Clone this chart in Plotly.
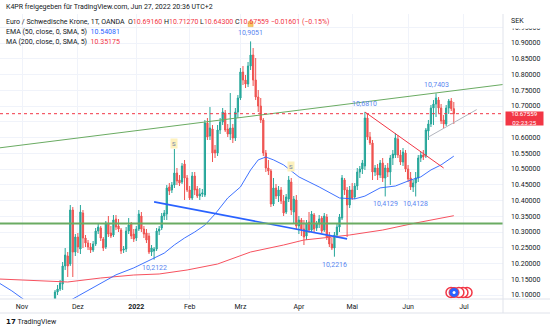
import pandas as pd
import plotly.graph_objects as go

# EUR/SEK daily candles (OANDA), 18 Nov 2021 - 27 Jun 2022
dates = pd.bdate_range("2021-11-18", "2022-06-27")

opens = [
    10.0841, 10.1095, 10.1190, 10.1349, 10.1920, 10.2238, 10.1984, 10.3698, 10.2365, 10.2841,
    10.2460, 10.3603, 10.2809, 10.2650, 10.2523, 10.2428, 10.2619, 10.3031, 10.3127, 10.2777,
    10.2523, 10.3285, 10.2968, 10.2904, 10.3412, 10.3190, 10.3063, 10.2428, 10.2460,
    10.3031, 10.3254, 10.2936, 10.2809, 10.3095, 10.3508, 10.3095, 10.2968, 10.2873, 10.2365,
    10.2396, 10.2460, 10.3031, 10.3127, 10.3508, 10.3571, 10.4428, 10.4333, 10.4492, 10.4873,
    10.4651, 10.4587, 10.5159, 10.4714, 10.4333, 10.4079, 10.4778, 10.4365, 10.4143,
    10.4206, 10.4174, 10.6460, 10.6048, 10.6270, 10.5603, 10.5508, 10.6238, 10.6492, 10.6778,
    10.6270, 10.6111, 10.6302, 10.5984, 10.6810, 10.7254, 10.8079, 10.7825, 10.7698, 10.8270,
    10.8619, 10.7825, 10.7286, 10.7000, 10.6556, 10.5508, 10.5032, 10.4937, 10.3889, 10.4397,
    10.4143, 10.4333, 10.3984, 10.3635, 10.4047, 10.4587, 10.3635, 10.4016, 10.3190,
    10.3381, 10.3095, 10.2873, 10.3317, 10.3063, 10.3539, 10.3127, 10.3254, 10.3444, 10.3063,
    10.3476, 10.2873, 10.2619, 10.2492, 10.2904, 10.3158, 10.3444, 10.4651, 10.4333, 10.3857,
    10.4333, 10.4111, 10.4460, 10.4905, 10.5000, 10.5095, 10.6619, 10.6016, 10.5825, 10.4905,
    10.5032, 10.4809, 10.5190, 10.4714, 10.5032, 10.4905, 10.5349, 10.5444, 10.5952,
    10.5444, 10.5222, 10.5508, 10.5000, 10.4714, 10.4428, 10.4555, 10.4714, 10.5349, 10.5444,
    10.5413, 10.6206, 10.6429, 10.6937, 10.7063, 10.7190, 10.6937, 10.6556, 10.6429, 10.6937,
    10.7159, 10.69160,
]
highs = [
    10.1159, 10.1317, 10.1476, 10.2047, 10.2492, 10.2365, 10.3857, 10.3793, 10.2936, 10.2968,
    10.3857, 10.3698, 10.2904, 10.2746, 10.2650, 10.2714, 10.3127, 10.3254, 10.3190, 10.2841,
    10.3349, 10.3508, 10.3190, 10.3539, 10.3539, 10.3412, 10.3127, 10.2555, 10.3158,
    10.3444, 10.3317, 10.3095, 10.3190, 10.3698, 10.3635, 10.3190, 10.3095, 10.2968, 10.2587,
    10.2523, 10.3127, 10.3190, 10.3603, 10.3698, 10.4492, 10.4555, 10.4587, 10.5635, 10.5032,
    10.4809, 10.5190, 10.5286, 10.4809, 10.4460, 10.4905, 10.4905, 10.4460, 10.4397,
    10.4365, 10.6556, 10.6619, 10.6968, 10.6397, 10.5762, 10.6397, 10.6619, 10.6937, 10.6873,
    10.6429, 10.7413, 10.6429, 10.6937, 10.7349, 10.8206, 10.8270, 10.7984, 10.8397, 10.9051,
    10.8841, 10.8524, 10.7508, 10.7254, 10.6619, 10.5603, 10.5286, 10.5000, 10.4714, 10.4524,
    10.4460, 10.4428, 10.4174, 10.4206, 10.4778, 10.4714, 10.4143, 10.4174, 10.3508,
    10.3444, 10.3381, 10.3381, 10.3635, 10.3666, 10.3603, 10.3349, 10.3539, 10.3508, 10.3603,
    10.3571, 10.3000, 10.2809, 10.3000, 10.3254, 10.3571, 10.4809, 10.4714, 10.4428, 10.4460,
    10.4555, 10.4555, 10.5032, 10.5095, 10.5286, 10.6810, 10.6746, 10.6175, 10.5921, 10.5127,
    10.5159, 10.5286, 10.5349, 10.5127, 10.5190, 10.5444, 10.5603, 10.6143, 10.6079,
    10.5603, 10.5667, 10.5603, 10.5127, 10.4905, 10.4651, 10.4905, 10.5444, 10.5540, 10.5603,
    10.6302, 10.6556, 10.7032, 10.7190, 10.7403, 10.7286, 10.7063, 10.6714, 10.7032, 10.7222,
    10.7254, 10.71270,
]
lows = [
    10.0746, 10.1000, 10.1127, 10.1159, 10.1794, 10.1571, 10.1920, 10.1571, 10.2238, 10.2333,
    10.2301, 10.2492, 10.2523, 10.2428, 10.2333, 10.2365, 10.2555, 10.2936, 10.2714, 10.2396,
    10.2460, 10.2841, 10.2809, 10.2841, 10.3063, 10.3000, 10.2301, 10.2333, 10.2365,
    10.2936, 10.2777, 10.2682, 10.2714, 10.3031, 10.3000, 10.2809, 10.2650, 10.2301, 10.2238,
    10.2122, 10.2396, 10.2904, 10.3063, 10.3381, 10.3381, 10.4174, 10.4238, 10.4397, 10.4492,
    10.4460, 10.4524, 10.4016, 10.4270, 10.4016, 10.4016, 10.4174, 10.4079, 10.4016,
    10.4111, 10.4111, 10.5921, 10.5921, 10.5222, 10.5349, 10.5413, 10.6111, 10.6397, 10.6175,
    10.6016, 10.5921, 10.5825, 10.5889, 10.6619, 10.7190, 10.7667, 10.7571, 10.7603, 10.8143,
    10.7635, 10.7190, 10.6810, 10.6460, 10.5413, 10.4905, 10.4809, 10.3793, 10.3825, 10.4047,
    10.3952, 10.3889, 10.3508, 10.3571, 10.3952, 10.3539, 10.3254, 10.3095, 10.2936,
    10.2873, 10.2587, 10.2746, 10.2968, 10.3000, 10.3000, 10.3031, 10.3127, 10.2968, 10.3000,
    10.2746, 10.2523, 10.2428, 10.2216, 10.2809, 10.3000, 10.3381, 10.4174, 10.2841, 10.3762,
    10.4016, 10.4047, 10.4333, 10.4714, 10.4841, 10.4968, 10.5921, 10.5762, 10.4651, 10.4778,
    10.4651, 10.4714, 10.4587, 10.4129, 10.4746, 10.4492, 10.5127, 10.5349, 10.5349,
    10.5127, 10.5095, 10.4905, 10.4587, 10.4333, 10.4270, 10.4128, 10.4587, 10.5222, 10.5286,
    10.5349, 10.5921, 10.6333, 10.6397, 10.6651, 10.6778, 10.6429, 10.6302, 10.6365, 10.6746,
    10.6841, 10.64300,
]
closes = [
    10.1095, 10.1190, 10.1381, 10.1920, 10.2269, 10.1920, 10.3698, 10.2365, 10.2841, 10.2523,
    10.3635, 10.2809, 10.2650, 10.2523, 10.2428, 10.2619, 10.3031, 10.3158, 10.2809, 10.2492,
    10.3285, 10.2936, 10.2873, 10.3381, 10.3158, 10.3095, 10.2396, 10.2460, 10.3031,
    10.3222, 10.2873, 10.2777, 10.3095, 10.3571, 10.3095, 10.2936, 10.2746, 10.2365, 10.2492,
    10.2460, 10.3031, 10.3095, 10.3508, 10.3603, 10.4397, 10.4301, 10.4492, 10.4873, 10.4619,
    10.4555, 10.5095, 10.4714, 10.4333, 10.4079, 10.4778, 10.4333, 10.4143, 10.4206,
    10.4238, 10.6460, 10.6016, 10.6302, 10.5508, 10.5508, 10.6238, 10.6492, 10.6810, 10.6238,
    10.6111, 10.6302, 10.5984, 10.6810, 10.7254, 10.8079, 10.7825, 10.7698, 10.8270, 10.8619,
    10.7825, 10.7286, 10.7000, 10.6556, 10.5508, 10.5032, 10.4937, 10.3889, 10.4397, 10.4143,
    10.4333, 10.3984, 10.3603, 10.4111, 10.4651, 10.3698, 10.4047, 10.3190, 10.3381,
    10.3095, 10.2841, 10.3285, 10.3063, 10.3571, 10.3095, 10.3254, 10.3412, 10.3031, 10.3508,
    10.2841, 10.2619, 10.2492, 10.2904, 10.3158, 10.3476, 10.4714, 10.4333, 10.3857, 10.4333,
    10.4079, 10.4460, 10.4905, 10.5000, 10.5190, 10.6619, 10.6016, 10.5825, 10.4905, 10.5032,
    10.4809, 10.5190, 10.4714, 10.5032, 10.4905, 10.5349, 10.5476, 10.5984, 10.5444,
    10.5222, 10.5540, 10.5000, 10.4682, 10.4428, 10.4555, 10.4714, 10.5349, 10.5444, 10.5381,
    10.6238, 10.6429, 10.6937, 10.7063, 10.7254, 10.6937, 10.6524, 10.6429, 10.6937, 10.7159,
    10.6916, 10.67559,
]

# EMA(50) and MA(200) overlays
ema_dates = [
    "2021-10-19", "2021-10-26", "2021-11-02", "2021-11-12", "2021-11-22", "2021-11-29",
    "2021-12-06", "2021-12-14", "2021-12-22", "2021-12-31", "2022-01-06", "2022-01-12",
    "2022-01-18", "2022-01-24", "2022-01-28", "2022-02-03", "2022-02-09", "2022-02-15",
    "2022-02-22", "2022-03-01", "2022-03-07", "2022-03-10", "2022-03-15", "2022-03-18",
    "2022-03-24", "2022-04-01", "2022-04-13", "2022-04-25", "2022-05-03", "2022-05-09",
    "2022-05-17", "2022-05-25", "2022-06-02", "2022-06-08", "2022-06-14", "2022-06-20",
    "2022-06-27",
]
ema_values = [
    10.138, 10.113, 10.084, 10.059, 10.065, 10.087,
    10.110, 10.138, 10.164, 10.186, 10.202, 10.217,
    10.233, 10.259, 10.281, 10.300, 10.322, 10.357,
    10.408, 10.443, 10.497, 10.529, 10.538, 10.529,
    10.513, 10.475, 10.443, 10.408, 10.405, 10.414,
    10.440, 10.446, 10.465, 10.475, 10.497, 10.513,
    10.54081,
]
ma_dates = [
    "2021-10-19", "2021-11-10", "2021-11-25", "2021-12-14", "2021-12-31", "2022-01-14",
    "2022-01-31", "2022-02-16", "2022-03-07", "2022-03-24", "2022-04-05", "2022-04-20",
    "2022-04-29", "2022-05-18", "2022-06-06", "2022-06-27",
]
ma_values = [
    10.1508, 10.1444, 10.1413, 10.1540, 10.1635, 10.1667,
    10.1794, 10.1984, 10.2365, 10.2587, 10.2746, 10.2841,
    10.2905, 10.3063, 10.3286, 10.35175,
]

# time axis
month_dates = ["2021-11-01", "2021-12-01", "2022-01-03", "2022-02-01", "2022-03-01",
               "2022-04-01", "2022-05-02", "2022-06-01", "2022-07-01"]
month_labels = ["Nov", "Dez", "<b>2022</b>", "Feb", "Mrz", "Apr", "Mai", "Jun", "Jul"]
price_ticks = [10.10, 10.15, 10.20, 10.25, 10.30, 10.35, 10.40, 10.45, 10.50,
               10.55, 10.60, 10.65, 10.70, 10.75, 10.80, 10.85, 10.90, 10.95]

# drawings
support_level = 10.327
channel_line = [("2021-10-19", 10.5670), ("2022-07-25", 10.7689)]
falling_blue = [("2022-01-12", 10.3956), ("2022-04-28", 10.2781)]
falling_red = [("2022-05-09", 10.6810), ("2022-06-21", 10.5032)]
rising_grey = [("2022-06-13", 10.6016), ("2022-07-08", 10.6886)]

marked_highs = ["2022-03-07", "2022-05-09", "2022-06-16"]
marked_lows = ["2022-01-12", "2022-04-21", "2022-05-19", "2022-06-06"]
split_marks = [("2022-01-24", 10.5825), ("2022-03-29", 10.5095)]
flag_mark = ("2022-03-07", 10.960)

UP, DOWN = "#26a69a", "#ef5350"
RED, BLUE = "#f23645", "#2962ff"
TXT = "#131722"
FONT = "Roboto"

# bars are placed on a trading-day index, 1 Nov 2021 = 0
calendar = pd.bdate_range("2021-10-01", "2022-08-31")
origin = calendar.get_loc(pd.Timestamp("2021-11-01"))


def bar(d):
    return calendar.get_loc(pd.Timestamp(d)) - origin


xs = [bar(d) for d in dates]
last = closes[-1]

fig = go.Figure()
fig.add_trace(go.Candlestick(
    x=xs, open=opens, high=highs, low=lows, close=closes,
    increasing=dict(line=dict(color=UP, width=1), fillcolor=UP),
    decreasing=dict(line=dict(color=DOWN, width=1), fillcolor=DOWN),
    whiskerwidth=0, hoverinfo="skip", showlegend=False,
))
fig.add_trace(go.Scatter(x=[bar(d) for d in ma_dates], y=ma_values, mode="lines",
                         line=dict(color="#f7525f", width=1), hoverinfo="skip", showlegend=False))
fig.add_trace(go.Scatter(x=[bar(d) for d in ema_dates], y=ema_values, mode="lines",
                         line=dict(color=BLUE, width=0.9), hoverinfo="skip", showlegend=False))

for pts, color, width in [(channel_line, "#6aab62", 1), (falling_blue, BLUE, 1.6),
                          (falling_red, RED, 1), (rising_grey, "#b2b5be", 1)]:
    fig.add_trace(go.Scatter(x=[bar(p[0]) for p in pts], y=[p[1] for p in pts], mode="lines",
                             line=dict(color=color, width=width), hoverinfo="skip",
                             showlegend=False))

# small flag badge above the March high
fig.add_trace(go.Scatter(x=[bar(flag_mark[0])], y=[flag_mark[1]], mode="markers",
                         marker=dict(symbol="square", size=5, color="#f5c760",
                                     line=dict(color="#e8a33c", width=0.5)),
                         hoverinfo="skip", showlegend=False))

# event badges on the last bars
fig.add_trace(go.Scatter(x=[175.2, 173.6, 172.0, 168.9], y=[10.108] * 4, mode="markers",
                         marker=dict(symbol="circle", size=10, color="white",
                                     line=dict(color=RED, width=1.5)),
                         hoverinfo="skip", showlegend=False, cliponaxis=False))
fig.add_trace(go.Scatter(x=[170.1], y=[10.108], mode="markers",
                         marker=dict(symbol="circle", size=10, color=BLUE,
                                     line=dict(color=RED, width=1)),
                         hoverinfo="skip", showlegend=False, cliponaxis=False))
fig.add_trace(go.Scatter(x=[170.1], y=[10.108], mode="markers",
                         marker=dict(symbol="circle", size=3, color="white"),
                         hoverinfo="skip", showlegend=False, cliponaxis=False))

PLOT_TOP, PLOT_BOTTOM = 14, 299


def py(px):
    return (PLOT_BOTTOM - px) / (PLOT_BOTTOM - PLOT_TOP)


shapes = [
    dict(type="line", xref="paper", yref="y", x0=0, x1=1, y0=support_level, y1=support_level,
         line=dict(color="#6aab62", width=2), layer="above"),
    dict(type="line", xref="paper", yref="y", x0=0, x1=1, y0=last, y1=last,
         line=dict(color=RED, width=1, dash="dot"), layer="above"),
    # panel frame
    dict(type="line", xref="paper", yref="paper", x0=0, x1=550 / 503, y0=0, y1=0,
         line=dict(color="#e0e3eb", width=1)),
    dict(type="line", xref="paper", yref="paper", x0=0, x1=550 / 503, y0=py(313), y1=py(313),
         line=dict(color="#e0e3eb", width=1)),
    dict(type="line", xref="paper", yref="paper", x0=1, x1=1, y0=py(313), y1=1,
         line=dict(color="#e0e3eb", width=1)),
    dict(type="rect", xref="paper", yref="paper", x0=504 / 503, x1=550 / 503,
         y0=py(28.5), y1=1.0, fillcolor="white", line=dict(width=0), layer="above"),
]

annotations = []


def fmt_comma(v):
    return f"{v:.4f}".replace(".", ",")


lookup = {d.strftime("%Y-%m-%d"): i for i, d in enumerate(dates)}
for d in marked_highs:
    i = lookup[d]
    annotations.append(dict(x=xs[i], y=highs[i], text=fmt_comma(highs[i]), showarrow=False,
                            yshift=8, font=dict(size=7, color="#5a86f0", family=FONT)))
for d in marked_lows:
    i = lookup[d]
    annotations.append(dict(x=xs[i], y=lows[i], text=fmt_comma(lows[i]), showarrow=False,
                            yshift=-8, font=dict(size=7, color="#5a86f0", family=FONT)))
for d, v in split_marks:
    annotations.append(dict(x=bar(d), y=v, text="S", showarrow=False, bgcolor="#fdf1bd",
                            borderpad=1, font=dict(size=6, color="#6b7ba6", family=FONT)))

chg = closes[-1] - closes[-2]
pct = chg / closes[-2] * 100


def red(s):
    return f'<span style="color:{RED}">{s}</span>'


legend_rows = [
    ("K4PR freigegeben für TradingView.com, Jun 27, 2022 20:36 UTC+2", 7),
    ("Euro / Schwedische Krone, 1T, OANDA  "
     f"O{red(f'{opens[-1]:.5f}')} H{red(f'{highs[-1]:.5f}')} "
     f"L{red(f'{lows[-1]:.5f}')} C{red(f'{closes[-1]:.5f}')} "
     + red(f"{chg:+.5f} ({pct:+.2f}%)".replace("-", "−")), 22.5),
    (f'EMA (50, close, 0, SMA, 5)  <span style="color:{BLUE}">{ema_values[-1]:.5f}</span>', 32.5),
    (f"MA (200, close, 0, SMA, 5)  {red(f'{ma_values[-1]:.5f}')}", 42.5),
]
for text, ypx in legend_rows:
    annotations.append(dict(xref="paper", yref="paper", x=4 / 503, y=py(ypx), text=text,
                            showarrow=False, xanchor="left", yanchor="middle",
                            font=dict(size=7, color=TXT, family=FONT)))

annotations += [
    dict(xref="paper", yref="paper", x=509 / 503, y=py(21), text="SEK", showarrow=False,
         xanchor="left", yanchor="middle", font=dict(size=7, color=TXT, family=FONT)),
    dict(xref="paper", yref="y", x=505 / 503, y=last, yshift=-4.5,
         text=f"{last:.5f}<br>02:23:25", showarrow=False, xanchor="left",
         yanchor="middle", width=37, height=13, bgcolor=RED, borderpad=0,
         font=dict(size=6.2, color="white", family=FONT)),
    dict(xref="paper", yref="paper", x=4 / 503, y=py(322), text="<b>𝟭𝟳</b> TradingView",
         showarrow=False, xanchor="left", yanchor="middle",
         font=dict(size=7, color=TXT, family=FONT)),
]

# the live price badge sits over the 10.65 grid level, so that level carries no label
tick_text = ["" if abs(v - 10.65) < 1e-9 else f"{v:.5f}" for v in price_ticks]

fig.update_layout(
    width=550, height=331,
    margin=dict(l=0, r=47, t=PLOT_TOP, b=331 - PLOT_BOTTOM),
    paper_bgcolor="white", plot_bgcolor="white",
    shapes=shapes, annotations=annotations, showlegend=False,
    xaxis=dict(range=[-8.661, 189.37], tickvals=[bar(d) for d in month_dates],
               ticktext=month_labels, showgrid=True, gridcolor="#f0f3fa", gridwidth=1,
               zeroline=False, showline=False, ticks="", ticklabelstandoff=2,
               tickfont=dict(size=7, color=TXT, family=FONT), rangeslider=dict(visible=False),
               fixedrange=True),
    yaxis=dict(side="right", range=[10.0873, 10.9921], tickvals=price_ticks,
               ticktext=tick_text, showgrid=True, gridcolor="#f0f3fa",
               zeroline=False, showline=False, ticks="", ticklabelstandoff=7,
               tickfont=dict(size=7, color=TXT, family=FONT), fixedrange=True),
)

fig.write_html("out.html")
